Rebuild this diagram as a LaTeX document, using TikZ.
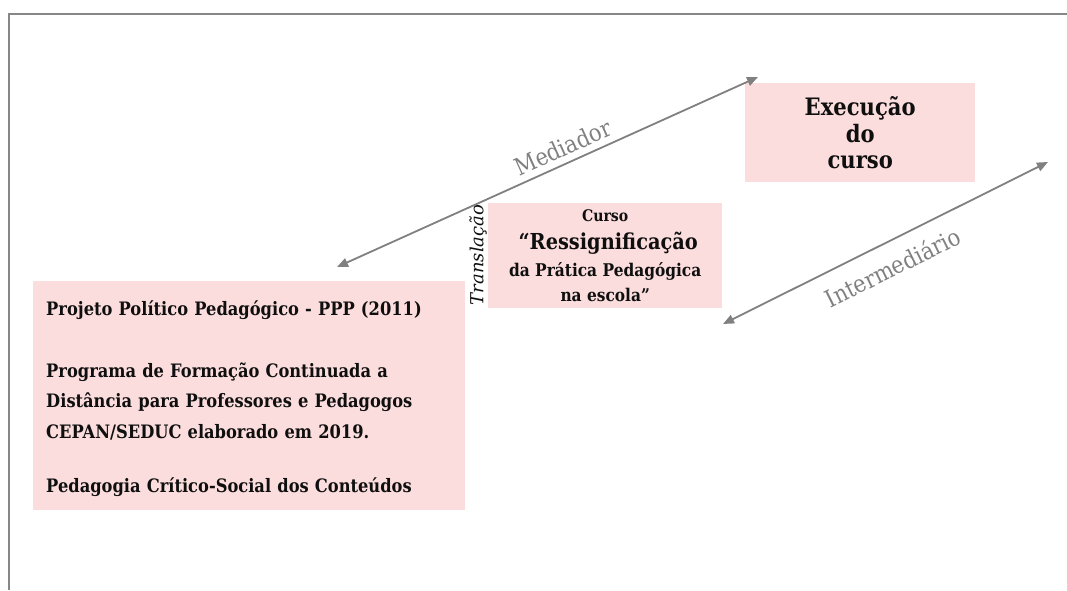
\documentclass[tikz,border=0pt]{standalone}
\usepackage{fontspec}
\setmainfont{DejaVu Serif}[FakeStretch=0.88]
\newfontfamily\transfont{DejaVu Serif}
\usetikzlibrary{arrows.meta}
\definecolor{boxpink}{RGB}{252,221,221}
\definecolor{arrgray}{RGB}{128,128,128}
\definecolor{framegray}{RGB}{135,135,135}
\definecolor{txt}{RGB}{15,15,15}
\begin{document}
\begin{tikzpicture}[x=1pt,y=-1pt,
  pbox/.style={fill=boxpink, draw=none, inner sep=0pt, text=txt},
  link/.style={draw=arrgray, line width=1.8pt,
    {Triangle[length=11pt,width=9pt]}-{Triangle[length=11pt,width=9pt]}},
  lbl/.style={text=arrgray, font=\fontsize{24}{28}\selectfont, sloped, inner sep=0pt}]
\useasboundingbox (0,0) rectangle (1067,590);
\draw[framegray, line width=2pt] (9,590) -- (9,14) -- (1067,14);

\node[pbox, anchor=north west, minimum width=432pt, minimum height=229pt,
      text width=406pt, inner xsep=13pt, align=left,
      font=\bfseries\fontsize{18.5}{30.5}\selectfont] (ppp) at (33,281)
  {\rule{0pt}{21pt}Projeto Político Pedagógico - PPP (2011)\\[31pt]
   Programa de Formação Continuada a\\
   Distância para Professores e Pedagogos\\
   CEPAN/SEDUC elaborado em 2019.\\[24pt]
   Pedagogia Crítico-Social dos Conteúdos};

\node[pbox, anchor=north west, minimum width=234pt, minimum height=105pt,
      align=center, font=\bfseries\fontsize{17.5}{27}\selectfont] (curso) at (488,203)
  {{\fontsize{16}{27}\selectfont Curso}\\[1pt]
   \hspace*{6pt}{\fontsize{22}{24}\selectfont “Ressignificação}\\
   da Prática Pedagógica\\[-2pt]
   na escola”};

\node[pbox, anchor=north west, minimum width=230pt, minimum height=99pt,
      align=center, font=\bfseries\fontsize{24}{26.5}\selectfont] (exec) at (745,83)
  {Execução\\do\\curso};

\node[rotate=90, text=txt, inner sep=0pt, font=\transfont\itshape\fontsize{18}{20}\selectfont] (transl) at (478,255) {Translação};

\coordinate (m1) at (337,267);
\coordinate (m2) at (758,77);
\coordinate (i1) at (723,324);
\coordinate (i2) at (1048,162);

\draw[link] (m1) -- (m2) node[lbl, pos=0.552, above=6pt] (med) {Mediador};
\draw[link] (i1) -- (i2) node[lbl, pos=0.488, below=14pt] (inter) {Intermediário};
\end{tikzpicture}
\end{document}
